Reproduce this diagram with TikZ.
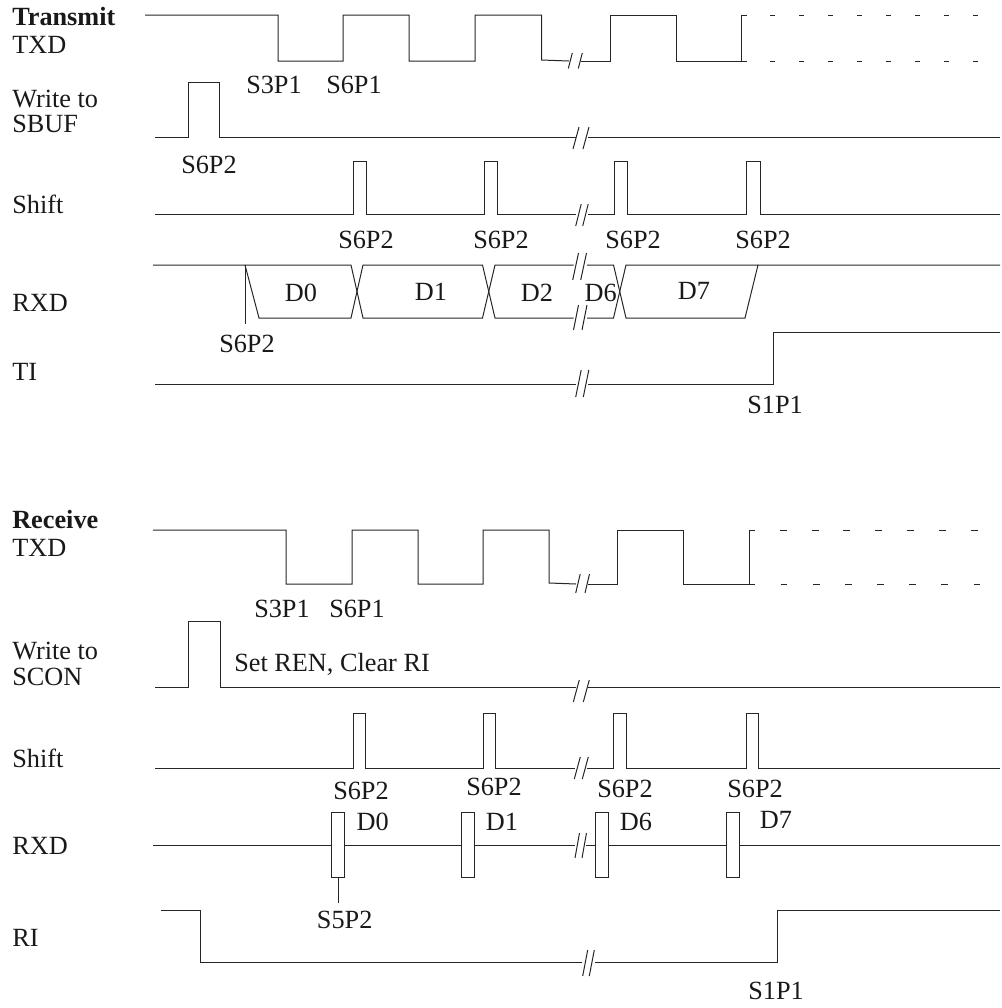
\documentclass[tikz,border=0pt]{standalone}
\usepackage{fontspec}
\setmainfont{Liberation Serif}
\tikzset{
  x=0.75pt,y=-0.75pt,
  sig/.style={draw=black!85,line width=0.75pt,line join=miter},
  lbl/.style={font=\fontsize{19.7}{23.5}\selectfont,inner sep=0pt,text=black!90},
  leftlbl/.style={lbl,anchor=west,align=left}
}
% \brk{x of lower end of first slash}{x of lower end of second}{y low}{y high}{slant}
\newcommand{\brk}[5]{\draw[sig] (#1,#3)--++(#5,#4-#3) (#2,#3)--++(#5,#4-#3);}
\begin{document}
\begin{tikzpicture}
\useasboundingbox (0,0) rectangle (1001,1008);
% ---- Transmit
\draw[sig] (145,15)--(278,15)--(278,61)--(343,61)--(343,15)--(409,15)--(409,61)--(475,61)--(475,15)--(541.5,15)--(541.5,60)--(569,61);
\draw[sig] (581,61)--(610,61)--(610,15)--(676,15)--(676,61)--(741.5,61)--(741.5,15)--(747,15) (741.5,61)--(747,61);
\brk{568.3}{578.3}{68.5}{53}{4}
\foreach \x in {770,799,828,857,886,915,944,973}{\draw[sig] (\x,15)--++(5,0) (\x,61)--++(5,0);}
\draw[sig] (155,137.5)--(188,137.5)--(188,82)--(219,82)--(219,137.5)--(575.5,137.5) (587.5,137.5)--(1000,137.5);
\brk{573}{583}{149}{127}{6}
\draw[sig] (155,214.5)--(353,214.5)--(353,161)--(366,161)--(366,214.5)--(484,214.5)--(484,161)--(497,161)--(497,214.5)--(576,214.5);
\draw[sig] (588,214.5)--(614.7,214.5)--(614.7,161)--(627.7,161)--(627.7,214.5)--(746,214.5)--(746,161)--(760,161)--(760,214.5)--(1000,214.5);
\brk{575.7}{582.7}{226}{204}{5.5}
% RXD
\draw[sig] (153,265)--(351,265)--(363,318)--(482.5,318)--(495,265)--(573.5,265) (587,265)--(613.5,265)--(626,318)--(745,318)--(758,265)--(1000,265);
\draw[sig] (245,265)--(259,318)--(351,318)--(363,265)--(482.5,265)--(495,318)--(573.5,318) (587,318)--(613.5,318)--(626,265)--(758,265);
\draw[sig] (245,265)--(245,324);
\brk{572.7}{580.7}{280}{253}{5.8}
\brk{573.5}{582}{330}{305}{5}
% TI
\draw[sig] (155,384)--(576,384) (588,384)--(773,384)--(773,332)--(1000,332);
\brk{575.7}{583.3}{397}{370}{5.5}
% ---- Receive
\draw[sig] (153,530)--(286,530)--(286,584)--(352,584)--(352,530)--(418,530)--(418,584)--(483,584)--(483,530)--(549,530)--(549,583)--(576,584);
\draw[sig] (588,584)--(617.5,584)--(617.5,530)--(683.5,530)--(683.5,584)--(749,584)--(749,530)--(755,530) (749,584)--(755,584);
\brk{575.7}{585}{593}{574}{4.5}
\foreach \x in {780,811.7,843.3,875,906.7,939,970.7}{\draw[sig] (\x,530)--++(7,0);}
\foreach \x in {780.7,813,845,877,909,941,973.7}{\draw[sig] (\x,584)--++(6.5,0);}
\draw[sig] (155,687.5)--(188,687.5)--(188,621)--(220,621)--(220,687.5)--(576,687.5) (588,687.5)--(1000,687.5);
\brk{573.3}{583.3}{702}{680}{6}
\draw[sig] (155,768)--(353,768)--(353,713.3)--(365,713.3)--(365,768)--(483,768)--(483,713.3)--(495,713.3)--(495,768)--(575,768);
\draw[sig] (587,768)--(613.7,768)--(613.7,713.3)--(626.7,713.3)--(626.7,768)--(746,768)--(746,713.3)--(758,713.3)--(758,768)--(1000,768);
\brk{574.3}{582.3}{779}{757}{6}
% RXD
\draw[sig] (153,845)--(331,845) (344,845)--(461.5,845) (474.5,845)--(575,845) (586,845)--(595.5,845) (608.5,845)--(726,845) (739,845)--(1000,845);
\draw[sig] (331,812) rectangle (344,877.5);
\draw[sig] (461.5,812) rectangle (474.5,877.5);
\draw[sig] (595.5,812) rectangle (608.5,877.5);
\draw[sig] (726,812) rectangle (739,877.5);
\draw[sig] (338,877.5)--(338,903);
\brk{575}{582}{858}{833}{4.5}
% RI
\draw[sig] (160.7,910)--(200.7,910)--(200.7,962.3)--(581.7,962.3) (595,962.3)--(777,962.3)--(777,910)--(1000,910);
\brk{582.7}{589.3}{976}{950}{5}
% ---- Labels
\node[leftlbl] (t0) at (12,17) {\textbf{Transmit}};
\node[leftlbl] (t1) at (12,45) {TXD};
\node[leftlbl] (t2) at (12,99) {Write to};
\node[leftlbl] (t3) at (12,124) {SBUF};
\node[leftlbl] (t4) at (12,204) {Shift};
\node[leftlbl] (t5) at (12,303) {RXD};
\node[leftlbl] (t6) at (12,372) {TI};
\node[lbl] (a1) at (274,85) {S3P1};
\node[lbl] (a2) at (354,85) {S6P1};
\node[lbl] (a3) at (209,165) {S6P2};
\node[lbl] (a4) at (366,240) {S6P2};
\node[lbl] (a5) at (501,240) {S6P2};
\node[lbl] (a6) at (633,240) {S6P2};
\node[lbl] (a7) at (763,240) {S6P2};
\node[lbl] (a8) at (247,344) {S6P2};
\node[lbl] (a9) at (775,405) {S1P1};
\node[lbl] (d0) at (301,293) {D0};
\node[lbl] (d1) at (431,292) {D1};
\node[lbl] (d2) at (537,293) {D2};
\node[lbl] (d6) at (600.7,293) {D6};
\node[lbl] (d7) at (694,291) {D7};
\node[leftlbl] (r0) at (12,520) {\textbf{Receive}};
\node[leftlbl] (r1) at (12,548) {TXD};
\node[leftlbl] (r2) at (12,651) {Write to};
\node[leftlbl] (r3) at (12,677) {SCON};
\node[leftlbl] (r4) at (12,758) {Shift};
\node[leftlbl] (r5) at (12,846) {RXD};
\node[leftlbl] (r6) at (12,938) {RI};
\node[lbl] (b1) at (282,609) {S3P1};
\node[lbl] (b2) at (357,609) {S6P1};
\node[leftlbl] (b3) at (234,664) {Set REN, Clear RI};
\node[lbl] (b4) at (361,791) {S6P2};
\node[lbl] (b5) at (494,787) {S6P2};
\node[lbl] (b6) at (625,789) {S6P2};
\node[lbl] (b7) at (755,789) {S6P2};
\node[lbl] (e0) at (372.7,822) {D0};
\node[lbl] (e1) at (502,822) {D1};
\node[lbl] (e6) at (636,822) {D6};
\node[lbl] (e7) at (776,820) {D7};
\node[lbl] (b8) at (344.7,920) {S5P2};
\node[lbl] (b9) at (776,991) {S1P1};
\end{tikzpicture}
\end{document}
